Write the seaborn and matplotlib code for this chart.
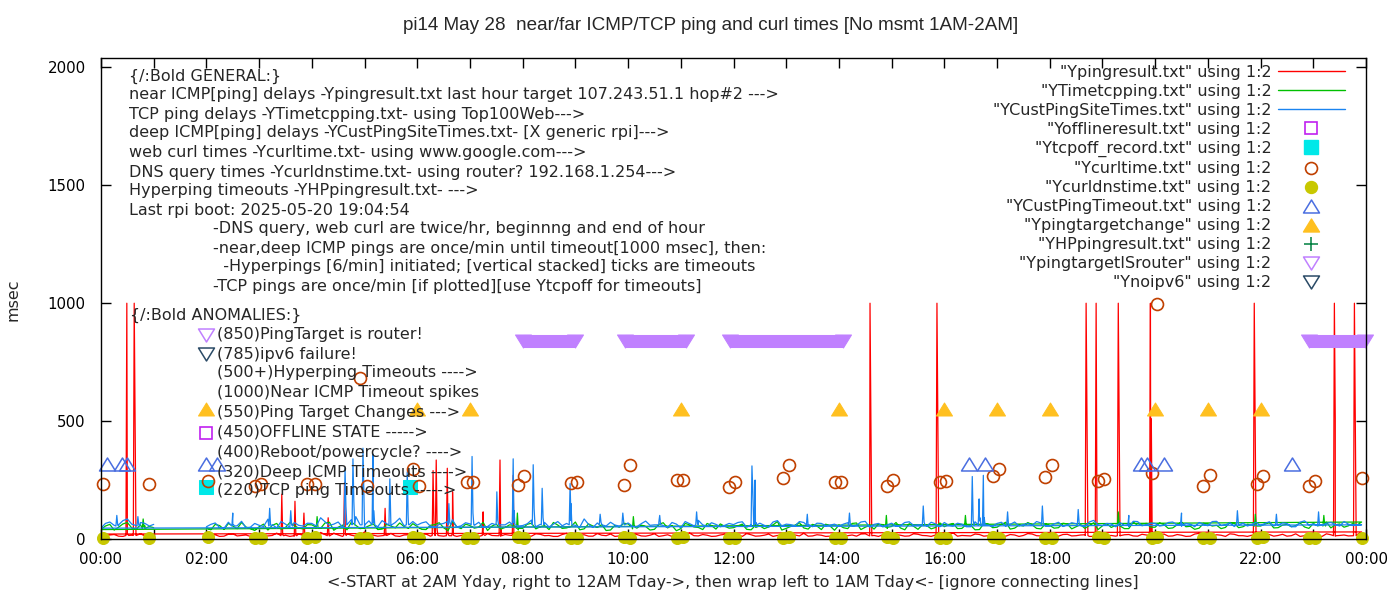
import numpy as np
import pandas as pd
import matplotlib
matplotlib.use("Agg")
import matplotlib.pyplot as plt
import seaborn as sns
from matplotlib.lines import Line2D
from matplotlib.path import Path
from matplotlib.ticker import MultipleLocator, FuncFormatter

# ---------------- data (hours of day, msec) ----------------
# 5-minute samples, file order: 02:00 .. 23:55 (yesterday) then 00:00 .. 01:00 (today)
grid_yday = [h + m / 60 for h in range(2, 24) for m in range(0, 60, 10)]
grid_yday_mid = [h + m / 60 for h in range(2, 24) for m in range(5, 60, 10)]
grid_tday = [m / 60 for m in range(0, 61, 10)]
grid_tday_mid = [m / 60 for m in range(5, 60, 10)]

near_yday = [14, 18, 12, 22, 15, 11, 19, 13, 25, 16, 12, 20,
             15, 28, 13, 17, 22, 12, 30, 16, 14, 24, 11, 18,
             13, 21, 16, 12, 26, 15, 18, 11, 23, 14, 19, 13,
             17, 12, 20, 15, 11, 24, 14, 18, 12, 16, 21, 13,
             15, 19, 12, 22, 14, 11, 17, 25, 13, 16, 12, 20,
             14, 11, 18, 13, 21, 15, 12, 17, 24, 13, 16, 12,
             19, 14, 12, 22, 15, 18, 11, 16, 13, 20, 14, 17,
             12, 26, 15, 13, 19, 14, 22, 12, 17, 15, 21, 13,
             16, 12, 20, 14, 18, 11, 23, 15, 13, 19, 12, 17,
             14, 21, 13, 16, 12, 24, 15, 18, 11, 20, 14, 16,
             13, 19, 15, 12, 22, 14, 17, 11, 18, 15, 13, 19]
near_yday_mid = [16, 11, 20, 13, 17, 24, 12, 15, 19, 11, 22, 14,
                 12, 19, 25, 11, 16, 14, 20, 12, 18, 13, 17, 26,
                 19, 12, 14, 23, 11, 17, 13, 21, 15, 12, 16, 20,
                 12, 22, 14, 11, 19, 13, 16, 12, 23, 14, 11, 18,
                 20, 13, 16, 11, 18, 22, 12, 14, 19, 11, 17, 13,
                 18, 23, 12, 16, 11, 14, 20, 13, 12, 18, 11, 21,
                 12, 17, 21, 13, 11, 14, 19, 12, 22, 15, 11, 13,
                 18, 12, 14, 21, 12, 17, 13, 19, 11, 23, 14, 16,
                 12, 19, 13, 17, 11, 22, 14, 12, 18, 13, 20, 11,
                 17, 12, 19, 11, 21, 13, 12, 16, 22, 14, 11, 19,
                 16, 12, 20, 14, 11, 18, 13, 22, 12, 17, 14, 30]
near_tday = [21, 17, 12, 20, 15, 13, 16]
near_tday_mid = [14, 19, 11, 16, 22, 12]

tcp_yday = [48, 62, 41, 55, 70, 44, 52, 38, 66, 49, 57, 43,
            60, 45, 71, 50, 39, 58, 47, 64, 42, 55, 68, 46,
            53, 40, 61, 48, 75, 44, 57, 50, 36, 63, 49, 58,
            45, 67, 52, 40, 59, 47, 72, 43, 55, 61, 38, 50,
            64, 46, 53, 41, 69, 57, 44, 60, 49, 66, 42, 54,
            48, 63, 39, 56, 51, 74, 45, 58, 47, 62, 40, 55,
            59, 44, 68, 50, 42, 61, 53, 47, 65, 41, 57, 49,
            52, 66, 45, 58, 40, 63, 50, 71, 46, 55, 60, 43,
            57, 48, 64, 52, 45, 69, 56, 49, 62, 44, 58, 66,
            50, 61, 47, 72, 54, 46, 63, 58, 49, 67, 52, 60,
            55, 70, 48, 62, 57, 51, 66, 59, 47, 64, 56, 60]
tcp_yday_mid = [39, 57, 66, 44, 51, 36, 63, 58, 42, 70, 46, 61,
                50, 68, 37, 59, 72, 44, 56, 40, 62, 48, 53, 65,
                41, 58, 69, 35, 52, 63, 46, 71, 55, 42, 60, 38,
                62, 43, 57, 70, 45, 53, 39, 64, 49, 36, 58, 67,
                43, 59, 38, 62, 47, 35, 66, 51, 40, 57, 64, 46,
                56, 41, 67, 44, 60, 38, 53, 69, 42, 55, 63, 37,
                48, 66, 40, 58, 63, 45, 70, 39, 54, 60, 43, 68,
                61, 44, 57, 39, 66, 48, 62, 42, 59, 70, 45, 64,
                46, 67, 43, 61, 57, 40, 65, 58, 44, 71, 63, 50,
                68, 45, 60, 52, 41, 66, 55, 44, 70, 48, 62, 57,
                63, 47, 59, 52, 68, 45, 56, 71, 60, 50, 66, 72]
tcp_tday = [40, 62, 50, 70, 41, 56, 48]
tcp_tday_mid = [55, 38, 64, 47, 60, 53]

deep_yday = [52, 68, 45, 60, 75, 50, 58, 84, 47, 63, 70, 55,
             66, 90, 58, 72, 61, 95, 54, 69, 78, 57, 88, 62,
             59, 73, 50, 66, 82, 56, 64, 71, 53, 77, 60, 68,
             57, 80, 62, 51, 74, 66, 58, 85, 49, 63, 71, 55,
             68, 52, 76, 60, 57, 70, 48, 65, 79, 54, 62, 58,
             61, 73, 55, 67, 50, 78, 63, 56, 70, 52, 66, 59,
             54, 69, 58, 75, 62, 51, 67, 57, 73, 60, 55, 64,
             70, 56, 63, 52, 77, 59, 66, 54, 72, 61, 58, 68,
             55, 71, 60, 65, 53, 79, 57, 64, 69, 52, 74, 61,
             66, 58, 72, 54, 63, 70, 56, 75, 60, 53, 68, 62,
             57, 73, 61, 66, 52, 77, 64, 58, 70, 55, 63, 59]
deep_yday_mid = [62, 49, 71, 56, 48, 66, 53, 61, 74, 50, 58, 67,
                 55, 73, 63, 50, 82, 60, 77, 52, 65, 70, 56, 74,
                 68, 54, 62, 75, 51, 69, 58, 49, 66, 60, 72, 55,
                 64, 52, 70, 63, 56, 78, 50, 62, 68, 55, 59, 73,
                 54, 65, 58, 71, 49, 63, 74, 56, 60, 69, 52, 66,
                 70, 50, 64, 58, 72, 55, 61, 74, 53, 67, 57, 63,
                 63, 56, 72, 50, 66, 60, 55, 70, 58, 64, 71, 52,
                 58, 67, 52, 73, 60, 54, 71, 62, 56, 66, 74, 55,
                 64, 53, 69, 57, 72, 60, 66, 52, 58, 75, 56, 67,
                 55, 70, 60, 66, 52, 63, 74, 57, 69, 62, 55, 71,
                 66, 55, 68, 52, 71, 60, 56, 67, 62, 74, 57, 60]
deep_tday = [46, 72, 60, 85, 57, 66, 62]
deep_tday_mid = [66, 58, 78, 63, 70, 55]

# spikes: (hour, baseline, peak, value one minute later)
near_spikes = [(0.49, 15, 1000, 20), (0.63, 15, 1000, 510), (3.43, 14, 190, 18),
               (3.68, 14, 160, 16), (3.85, 15, 110, 15), (4.31, 14, 90, 16),
               (4.62, 15, 240, 20), (5.39, 15, 130, 15), (6.30, 15, 290, 60),
               (6.36, 15, 335, 40), (6.57, 14, 300, 20), (6.67, 14, 200, 16),
               (7.25, 15, 115, 18), (7.57, 14, 335, 40), (7.82, 15, 270, 18),
               (14.59, 14, 1000, 510), (15.86, 14, 1000, 510), (18.69, 15, 1000, 510),
               (18.88, 15, 1000, 20), (19.30, 14, 1000, 510), (19.91, 14, 1000, 510),
               (21.88, 15, 1000, 510), (23.40, 14, 1000, 510), (23.78, 14, 1000, 510)]
tcp_spikes = [(0.80, 45, 85, 50), (4.10, 45, 95, 50), (7.90, 45, 110, 50),
              (10.10, 50, 95, 55), (12.40, 50, 105, 50), (14.90, 50, 100, 55),
              (16.40, 55, 100, 60), (19.30, 55, 115, 60), (21.90, 55, 105, 60),
              (23.20, 55, 100, 60)]
deep_spikes = [(0.30, 55, 100, 60), (0.70, 55, 95, 60), (2.50, 55, 110, 60),
               (3.20, 55, 130, 60), (3.60, 55, 120, 60), (4.63, 60, 300, 140),
               (4.78, 60, 340, 160), (4.97, 60, 385, 200), (5.16, 60, 360, 120),
               (5.48, 60, 255, 90), (5.81, 60, 285, 100), (6.60, 60, 150, 70),
               (7.04, 60, 350, 110), (7.51, 60, 200, 80), (7.82, 60, 340, 120),
               (8.20, 60, 315, 130), (8.37, 60, 215, 90), (8.90, 60, 235, 150),
               (9.47, 60, 105, 70), (9.90, 60, 110, 65), (10.60, 60, 100, 60),
               (11.30, 60, 115, 65), (12.35, 60, 310, 200), (12.41, 60, 250, 70),
               (13.40, 60, 105, 60), (14.20, 60, 110, 60), (15.60, 60, 140, 70),
               (16.53, 60, 265, 80), (16.66, 60, 170, 90), (16.74, 60, 270, 90),
               (17.20, 60, 115, 60), (17.86, 60, 140, 70), (18.54, 60, 125, 70),
               (19.50, 60, 100, 60), (20.50, 60, 110, 65), (21.56, 60, 120, 70),
               (22.30, 60, 105, 60), (23.10, 60, 115, 60)]

# web curl and DNS, twice per hour
curl_t = [0.04, 0.91, 2.03, 2.92, 3.04, 3.91, 4.06, 4.91, 5.05, 5.92, 6.03, 6.94,
          7.06, 7.91, 8.03, 8.92, 9.03, 9.92, 10.04, 10.93, 11.04, 11.92, 12.03,
          12.94, 13.06, 13.93, 14.04, 14.91, 15.03, 15.92, 16.03, 16.93, 17.04,
          17.91, 18.05, 18.92, 19.03, 19.94, 20.04, 20.91, 21.04, 21.94, 22.05,
          22.92, 23.04, 23.93]
curl_v = [235, 235, 248, 226, 235, 235, 235, 683, 226, 295, 226, 243,
          243, 230, 269, 239, 243, 230, 312, 252, 252, 222, 243,
          260, 312, 243, 243, 226, 252, 243, 248, 269, 295,
          265, 312, 248, 256, 278, 995, 226, 273, 235, 269,
          226, 248, 260]
dns_v = [6, 5, 7, 4, 6, 5, 8, 6, 4, 7, 5, 6,
         5, 7, 4, 6, 5, 8, 4, 6, 7, 5, 6,
         4, 7, 5, 6, 8, 5, 4, 6, 7, 5,
         6, 4, 7, 5, 6, 8, 5, 4, 6, 7,
         5, 6, 4]

tcpoff_t = [2.0, 5.86]
tcpoff_v = [220, 220]
offline_t = [2.0]
offline_v = [450]
custto_t = [0.11, 0.40, 0.49, 2.0, 2.2, 16.47, 16.77, 19.73, 19.85, 20.17, 22.60]
custto_v = [320] * 11
target_t = [2, 6, 7, 11, 14, 16, 17, 18, 20, 21, 22]
target_v = [550] * 11
hping_t = [2.0]
hping_v = [700]
ipv6_t = [2.0]
ipv6_v = [785]
router_key_t = [2.0]
router_key_v = [865]
# periods where the ping target was the router (sampled every minute -> solid band)
router_start = [8.01, 9.94, 11.94, 22.92]
router_end = [9.00, 11.09, 14.08, 23.98]
router_level = 840

title = "pi14 May 28  near/far ICMP/TCP ping and curl times [No msmt 1AM-2AM]"
xlabel = "<-START at 2AM Yday, right to 12AM Tday->, then wrap left to 1AM Tday<- [ignore connecting lines]"
general_lines = [
    "{/:Bold GENERAL:}",
    "near ICMP[ping] delays -Ypingresult.txt last hour target 107.243.51.1 hop#2 --->",
    "TCP ping delays -YTimetcpping.txt- using Top100Web--->",
    "deep ICMP[ping] delays -YCustPingSiteTimes.txt- [X generic rpi]--->",
    "web curl times -Ycurltime.txt- using www.google.com--->",
    "DNS query times -Ycurldnstime.txt- using router? 192.168.1.254--->",
    "Hyperping timeouts -YHPpingresult.txt- --->",
    "Last rpi boot: 2025-05-20 19:04:54",
]
note_lines = [
    "-DNS query, web curl are twice/hr, beginnng and end of hour",
    "-near,deep ICMP pings are once/min until timeout[1000 msec], then:",
    "  -Hyperpings [6/min] initiated; [vertical stacked] ticks are timeouts",
    "-TCP pings are once/min [if plotted][use Ytcpoff for timeouts]",
]
anomaly_lines = [
    "(850)PingTarget is router!",
    "(785)ipv6 failure!",
    "(500+)Hyperping Timeouts ---->",
    "(1000)Near ICMP Timeout spikes",
    "(550)Ping Target Changes --->",
    "(450)OFFLINE STATE ----->",
    "(400)Reboot/powercycle? ---->",
    "(320)Deep ICMP Timeouts ---->",
    "(220)TCP ping Timeouts ----->",
]
legend_labels = ['"Ypingresult.txt" using 1:2', '"YTimetcpping.txt" using 1:2',
                 '"YCustPingSiteTimes.txt" using 1:2', '"Yofflineresult.txt" using 1:2',
                 '"Ytcpoff_record.txt" using 1:2', '"Ycurltime.txt" using 1:2',
                 '"Ycurldnstime.txt" using 1:2', '"YCustPingTimeout.txt" using 1:2',
                 '"Ypingtargetchange" using 1:2', '"YHPpingresult.txt" using 1:2',
                 '"YpingtargetISrouter" using 1:2', '"Ynoipv6" using 1:2']

# ---------------- style ----------------
RED, GREEN, BLUE = "#ff0000", "#00c000", "#1a84f0"
PURPLE, CYAN, BROWN, OLIVE = "#c020f0", "#00e8e8", "#c04000", "#c8c800"
ROYAL, ORANGE, DKGREEN = "#4a6ee0", "#ffc020", "#008040"
LAVENDER, SLATE = "#c080ff", "#2a4a66"
TRI_UP = Path([(-8, -6.5), (8, -6.5), (0, 6.5), (-8, -6.5)], closed=True)
TRI_DN = Path([(-8, 6.5), (8, 6.5), (0, -6.5), (-8, 6.5)], closed=True)
FS = 11.5

sns.set_style("ticks")
plt.rcParams["font.family"] = ["DejaVu Sans"]

fig = plt.figure(figsize=(14, 6), dpi=100)
ax = fig.add_axes([101 / 1400, 61 / 600, 1265 / 1400, 481 / 600])


def build_series(yday, yday_mid, tday, tday_mid, spikes):
    t = grid_yday + grid_yday_mid + grid_tday + grid_tday_mid
    v = list(yday) + list(yday_mid) + list(tday) + list(tday_mid)
    for ts, base, peak, after in spikes:
        t += [ts - 1 / 60, ts, ts + 1 / 60, ts + 2 / 60]
        v += [base, peak, after, base]
    df = pd.DataFrame({"t": t, "msec": v})
    # file order: yesterday 02:00 .. 24:00 first, then today 00:00 .. 01:00
    df["order"] = np.where(df["t"] >= 2, df["t"], df["t"] + 24)
    return df.sort_values("order").reset_index(drop=True)


for args, col in [((near_yday, near_yday_mid, near_tday, near_tday_mid, near_spikes), RED),
                  ((tcp_yday, tcp_yday_mid, tcp_tday, tcp_tday_mid, tcp_spikes), GREEN),
                  ((deep_yday, deep_yday_mid, deep_tday, deep_tday_mid, deep_spikes), BLUE)]:
    d = build_series(*args)
    sns.lineplot(data=d, x="t", y="msec", sort=False, estimator=None,
                 color=col, lw=0.9, legend=False, ax=ax)


def points(t, v, **kw):
    sns.lineplot(x=t, y=v, sort=False, estimator=None, linestyle="",
                 legend=False, ax=ax, clip_on=False, **kw)


points(offline_t, offline_v, marker="s", ms=9, mfc="none", mec=PURPLE, mew=1.2)
points(tcpoff_t, tcpoff_v, marker="s", ms=9.5, color=CYAN, mec=CYAN)
points(curl_t, curl_v, marker="o", ms=8.6, mfc="none", mec=BROWN, mew=1.2)
points(curl_t, dns_v, marker="o", ms=8.6, color=OLIVE, mec=OLIVE)
points(custto_t, custto_v, marker=TRI_UP, ms=11.5, mfc="none", mec=ROYAL, mew=1.1)
points(target_t, target_v, marker=TRI_UP, ms=11.5, color=ORANGE, mec=ORANGE)
points(hping_t, hping_v, marker="+", ms=10, color=DKGREEN, mew=1.1)
points(router_key_t, router_key_v, marker=TRI_DN, ms=11.5, mfc="none", mec=LAVENDER, mew=1.1)
points(ipv6_t, ipv6_v, marker=TRI_DN, ms=11.5, mfc="none", mec=SLATE, mew=1.1)

# router periods: a point every minute merges into a solid band
band = pd.DataFrame({"t": router_start + router_end,
                     "msec": [router_level] * (2 * len(router_start)),
                     "period": list(range(len(router_start))) * 2})
sns.lineplot(data=band, x="t", y="msec", units="period", estimator=None,
             color=LAVENDER, lw=9.4, solid_capstyle="butt", legend=False, ax=ax)
points(band["t"], band["msec"], marker=TRI_DN, ms=11.5, color=LAVENDER, mec=LAVENDER)

# ---------------- axes ----------------
ax.set_xlim(0, 24)
ax.set_ylim(0, 2040)
ax.xaxis.set_major_locator(MultipleLocator(2))
ax.xaxis.set_minor_locator(MultipleLocator(1))
ax.xaxis.set_major_formatter(FuncFormatter(lambda x, p: f"{int(round(x)) % 24:02d}:00"))
ax.yaxis.set_major_locator(MultipleLocator(500))
ax.tick_params(which="both", direction="in", length=7, width=1, top=True, right=True,
               labelsize=10.8, colors="black")
ax.tick_params(axis="x", pad=9)
ax.tick_params(axis="y", pad=11)
for s in ax.spines.values():
    s.set_color("black")
    s.set_linewidth(1)
ax.set_xlabel("")
ax.set_ylabel("")
fig.text(733 / 1400, 1 - 583 / 600, xlabel, ha="center", va="center", fontsize=FS)
fig.text(13 / 1400, 1 - 300 / 600, "msec", rotation=90, ha="center", va="center", fontsize=FS)
fig.text(711 / 1400, 1 - 25 / 600, title, ha="center", va="center", fontsize=13.6,
         family=["Liberation Sans Narrow", "Liberation Sans"])


def axpos(px, py):
    return (px - 101) / 1265, (539 - py) / 481


gen_y = [76, 95, 114, 133, 152, 172, 191, 210]
for txt, yy in zip(general_lines, gen_y):
    ax.text(*axpos(129, yy), txt, transform=ax.transAxes, ha="left", va="center", fontsize=FS)
note_y = [229, 248, 267, 287]
for txt, yy in zip(note_lines, note_y):
    ax.text(*axpos(213, yy), txt, transform=ax.transAxes, ha="left", va="center", fontsize=FS)
ax.text(*axpos(130, 315), "{/:Bold ANOMALIES:}", transform=ax.transAxes, ha="left",
        va="center", fontsize=FS)
anom_y = [335, 354, 373, 392, 412, 432, 452, 472, 490]
for txt, yy in zip(anomaly_lines, anom_y):
    ax.text(*axpos(217, yy), txt, transform=ax.transAxes, ha="left", va="center", fontsize=FS)

# ---------------- key ----------------
handles = [
    Line2D([], [], color=RED, lw=1),
    Line2D([], [], color=GREEN, lw=1),
    Line2D([], [], color=BLUE, lw=1),
    Line2D([], [], ls="", marker="s", ms=9, mfc="none", mec=PURPLE, mew=1.2),
    Line2D([], [], ls="", marker="s", ms=9.5, color=CYAN),
    Line2D([], [], ls="", marker="o", ms=8.6, mfc="none", mec=BROWN, mew=1.2),
    Line2D([], [], ls="", marker="o", ms=8.6, color=OLIVE),
    Line2D([], [], ls="", marker=TRI_UP, ms=11.5, mfc="none", mec=ROYAL, mew=1.1),
    Line2D([], [], ls="", marker=TRI_UP, ms=11.5, color=ORANGE),
    Line2D([], [], ls="", marker="+", ms=10, color=DKGREEN, mew=1.1),
    Line2D([], [], ls="", marker=TRI_DN, ms=11.5, mfc="none", mec=LAVENDER, mew=1.1),
    Line2D([], [], ls="", marker=TRI_DN, ms=11.5, mfc="none", mec=SLATE, mew=1.1),
]
ax.legend(handles, legend_labels, loc="upper right", bbox_to_anchor=axpos(1345, 65),
          bbox_transform=ax.transAxes, frameon=False, markerfirst=False, fontsize=FS,
          handlelength=4.2, handletextpad=0.4, labelspacing=0.25, borderpad=0,
          borderaxespad=0, numpoints=1)

fig.savefig("out.png", dpi=100, facecolor="white")
